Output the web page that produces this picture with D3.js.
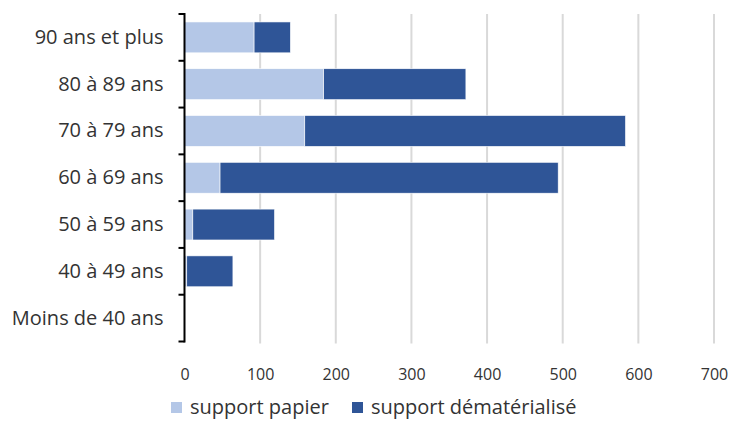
<!DOCTYPE html>
<html>
<head>
<meta charset="utf-8">
<script src="https://cdn.jsdelivr.net/npm/d3@7"></script>
<style>
  body { margin: 0; background: #fff; }
  text { font-family: "Open Sans", "Noto Sans", sans-serif; fill: #333; }
</style>
</head>
<body>
<div id="chart"></div>
<script>
// age groups, top to bottom as drawn
const categories = ['90 ans et plus', '80 à 89 ans', '70 à 79 ans', '60 à 69 ans', '50 à 59 ans', '40 à 49 ans', 'Moins de 40 ans'];
const papier = [92, 184, 159, 47, 11, 3, 0];
const dematerialise = [48, 188, 424, 447, 108, 61, 0];
const xTicks = [0, 100, 200, 300, 400, 500, 600, 700];
const seriesNames = ['support papier', 'support dématérialisé'];
const colors = ['#b4c7e7', '#2f5597'];

const width = 732, height = 421;
const margin = {left: 184.5, top: 14};
const h = 327.5;

const svg = d3.select('#chart').append('svg').attr('width', width).attr('height', height);
const g = svg.append('g').attr('transform', 'translate(' + margin.left + ',' + margin.top + ')');

const x = d3.scaleLinear().domain([0, 700]).range([0, 529.5]);
const y = d3.scaleBand().domain(categories).range([0, h]).paddingInner(0.34).paddingOuter(0.17);

const data = categories.map((c, i) => ({cat: c, papier: papier[i], dematerialise: dematerialise[i]}));
const stacked = d3.stack().keys(['papier', 'dematerialise'])(data);

// gridlines
g.append('g').selectAll('line.grid')
    .data(xTicks.filter(d => d > 0))
    .enter().append('line')
    .attr('class', 'grid')
    .attr('x1', d => x(d)).attr('x2', d => x(d))
    .attr('y1', 0).attr('y2', h + 2)
    .attr('stroke', '#d9d9d9').attr('stroke-width', 2);

// bars
g.selectAll('g.layer')
    .data(stacked)
    .enter().append('g')
    .attr('class', 'layer')
    .attr('fill', (d, i) => colors[i])
    .selectAll('rect')
    .data(d => d)
    .enter().append('rect')
    .attr('x', d => x(d[0]))
    .attr('y', d => y(d.data.cat))
    .attr('width', d => Math.max(0, x(d[1]) - x(d[0])))
    .attr('height', y.bandwidth())
    .attr('stroke', '#fff').attr('stroke-width', 0.6);

// x tick labels (no axis line)
const xAxis = g.append('g')
    .attr('transform', 'translate(0,' + (h + 24) + ')')
    .call(d3.axisBottom(x).tickValues(xTicks).tickSize(0).tickFormat(d3.format('d')));
xAxis.select('.domain').remove();
xAxis.selectAll('text').attr('font-size', 16).attr('font-family', null).attr('fill', null).attr('dy', '0.71em');

// y axis labels, line + ticks at band boundaries
const yAxis = g.append('g')
    .call(d3.axisLeft(y).tickSize(0).tickPadding(21));
yAxis.select('.domain').remove();
yAxis.selectAll('text').attr('font-size', 20).attr('font-family', null).attr('fill', null);

const bounds = d3.range(categories.length + 1).map(i => i * y.step());
g.append('line')
    .attr('x1', 0).attr('x2', 0).attr('y1', -1).attr('y2', h + 1)
    .attr('stroke', '#000').attr('stroke-width', 2);
g.selectAll('line.ytick')
    .data(bounds)
    .enter().append('line')
    .attr('class', 'ytick')
    .attr('x1', -6).attr('x2', 0)
    .attr('y1', d => d).attr('y2', d => d)
    .attr('stroke', '#000').attr('stroke-width', 2);

// legend
const legendX = [171, 352];
const legend = svg.append('g').selectAll('g.leg')
    .data(seriesNames)
    .enter().append('g')
    .attr('class', 'leg')
    .attr('transform', (d, i) => 'translate(' + legendX[i] + ',402)');
legend.append('rect')
    .attr('width', 11).attr('height', 11)
    .attr('fill', (d, i) => colors[i]);
legend.append('text')
    .attr('x', 19).attr('y', 12)
    .attr('font-size', 20)
    .text(d => d);
</script>
</body>
</html>
